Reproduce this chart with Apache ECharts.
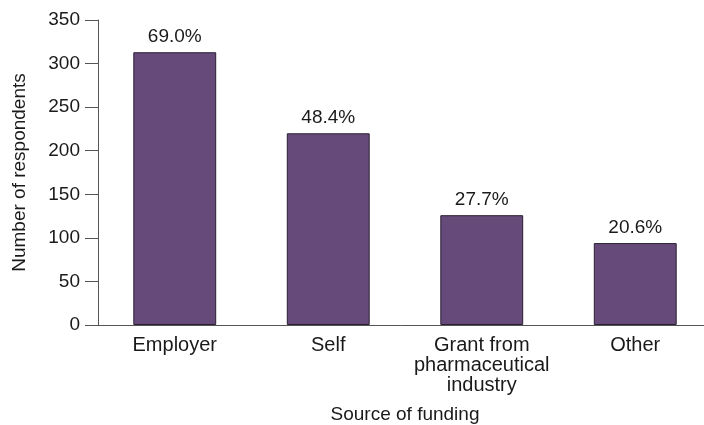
<!DOCTYPE html>
<html>
<head>
<meta charset="utf-8">
<script src="https://cdn.jsdelivr.net/npm/echarts@6/dist/echarts.min.js"></script>
<style>
  html, body { margin: 0; padding: 0; background: #fff; }
  #chart { width: 704px; height: 425px; }
</style>
</head>
<body>
<div id="chart"></div>
<script>
// data
var categories = ['Employer', 'Self', 'Grant from\npharmaceutical\nindustry', 'Other'];
var respondents = [313, 220, 126, 94];
var percentLabels = ['69.0%', '48.4%', '27.7%', '20.6%'];
var yTicks = [0, 50, 100, 150, 200, 250, 300, 350];

var chartDom = document.getElementById('chart');
var myChart = echarts.init(chartDom);
var option;

option = {
  animation: false,
  textStyle: { fontFamily: 'Liberation Sans, Arial, sans-serif' },
  grid: { left: 98, top: 20, width: 614, height: 305, containLabel: false, outerBoundsMode: 'none' },
  xAxis: {
    type: 'category',
    data: categories,
    name: 'Source of funding',
    nameLocation: 'middle',
    nameGap: 80,
    nameTextStyle: { fontSize: 19, color: '#1a1a1a' },
    axisLine: { lineStyle: { color: '#555', width: 1 } },
    axisTick: { length: 12, lineStyle: { color: '#555' } },
    axisLabel: { fontSize: 20, color: '#1a1a1a', margin: 10, lineHeight: 20, interval: 0 }
  },
  yAxis: {
    type: 'value',
    min: yTicks[0],
    max: yTicks[yTicks.length - 1],
    interval: 50,
    name: 'Number of respondents',
    nameLocation: 'middle',
    nameGap: 69,
    nameTextStyle: { fontSize: 19, color: '#1a1a1a' },
    splitLine: { show: false },
    axisLine: { show: true, lineStyle: { color: '#555', width: 1 } },
    axisTick: { show: true, length: 13, lineStyle: { color: '#555' } },
    axisLabel: { fontSize: 19, color: '#1a1a1a', margin: 18 }
  },
  series: [
    {
      type: 'bar',
      data: respondents,
      barWidth: '54%',
      itemStyle: { color: '#664a79', borderColor: '#2b1f33', borderWidth: 1 },
      label: {
        show: true,
        position: 'top',
        distance: 6,
        fontSize: 19,
        color: '#1a1a1a',
        formatter: function(params) {
          return percentLabels[params.dataIndex];
        }
      }
    }
  ]
};
option && myChart.setOption(option);
</script>
</body>
</html>
